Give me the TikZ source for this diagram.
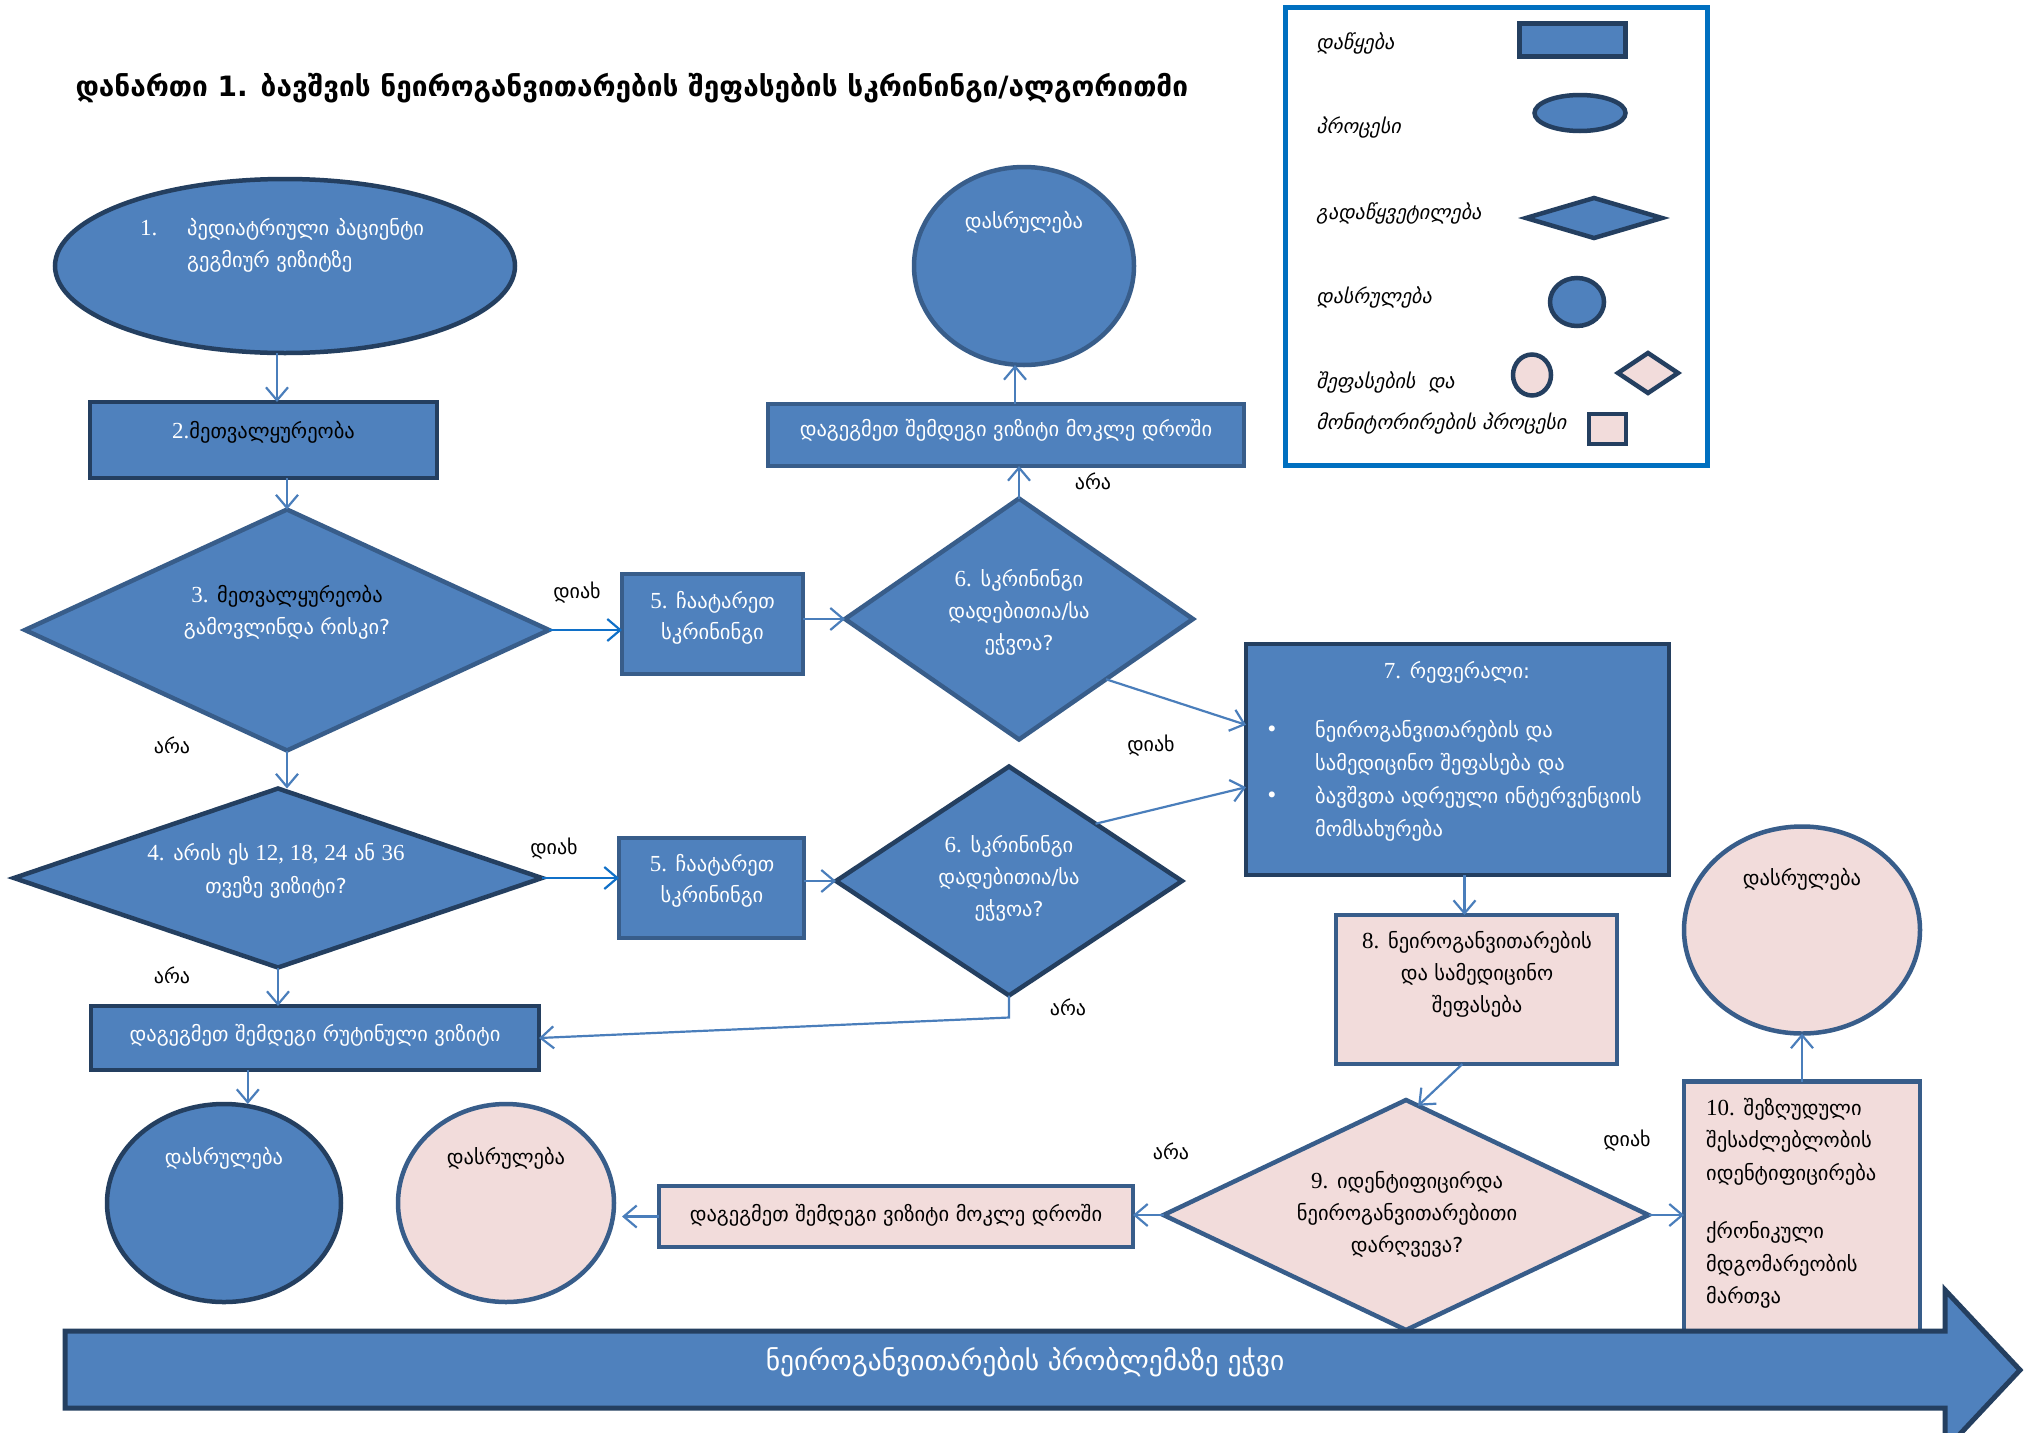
\documentclass[tikz,border=0pt]{standalone}
\usepackage{fontspec}
\setmainfont{DejaVu Sans}
\newfontfamily\geoit[FakeSlant=0.22]{DejaVu Sans}
\newfontfamily\lat{Liberation Serif}
\usetikzlibrary{shapes.geometric,arrows.meta,calc}
\definecolor{bF}{HTML}{4F81BD}
\definecolor{bD}{HTML}{243F60}
\definecolor{bM}{HTML}{385D8A}
\definecolor{pF}{HTML}{F2DCDB}
\definecolor{cC}{HTML}{4A7EBB}
\definecolor{cB}{HTML}{1070C8}
\definecolor{lgB}{HTML}{0070C0}
\newcommand\fsN{\fontsize{20.5}{32}\selectfont}
\newcommand\fsL{\fontsize{20}{22}\selectfont}
\newcommand\fsT{\bfseries\fontsize{28}{32}\selectfont}
\newcommand\fsA{\fontsize{27.5}{30}\selectfont}
\newcommand\fsG{\geoit\fontsize{20}{22}\selectfont}
\newcommand\dg[1]{{\lat\fontsize{23}{23}\selectfont #1}}
\tikzset{
  base/.style={line width=4.5pt, inner sep=0pt, outer sep=0pt},
  bd/.style={base, fill=bF, draw=bD},
  bm/.style={base, fill=bF, draw=bM},
  pk/.style={base, fill=pF, draw=bM},
  pkd/.style={base, fill=pF, draw=bD},
  txt/.style={font=\fsN, align=center, inner sep=0pt},
  wt/.style={txt, text=white},
  bt/.style={txt, text=black},
  lbl/.style={font=\fsL, inner sep=0pt},
  lgt/.style={font=\fsG, inner sep=0pt, anchor=west},
  conn/.style={draw=cC, line width=2.2pt, -{Straight Barb[length=13pt,width=22pt]}},
  connb/.style={conn, draw=cB},
}
\begin{document}
\begin{tikzpicture}[x=1pt,y=-1pt]
\useasboundingbox (0,0) rectangle (2033,1432);
\fill[white] (0,0) rectangle (2033,1432);
\clip (0,0) rectangle (2033,1432);

% title
\node[font=\fsT, inner sep=0pt] (title) at (632,88) {დანართი 1. ბავშვის ნეიროგანვითარების შეფასების სკრინინგი/ალგორითმი};

% legend
\node[draw=lgB, line width=4.5pt, minimum width=422pt, minimum height=458pt, inner sep=0pt] (leg) at (1496.5,236.5) {};
\node[bd, rectangle, minimum width=106pt, minimum height=33pt] (lg1) at (1572.5,40) {};
\node[bd, ellipse, minimum width=91pt, minimum height=36pt] (lg2) at (1580,113) {};
\node[bd, diamond, minimum width=136pt, minimum height=40pt] (lg3) at (1594,218) {};
\node[bd, ellipse, minimum width=54pt, minimum height=48pt] (lg4) at (1577,302) {};
\node[pkd, ellipse, minimum width=38pt, minimum height=41pt] (lg5) at (1532,375) {};
\node[pkd, diamond, minimum width=60pt, minimum height=40pt] (lg6) at (1648,373) {};
\node[pkd, rectangle, minimum width=37pt, minimum height=30pt] (lg7) at (1607.5,429) {};
\node[lgt] (lt1) at (1316,43) {დაწყება};
\node[lgt] (lt2) at (1316,128) {პროცესი};
\node[lgt] (lt3) at (1316,213) {გადაწყვეტილება};
\node[lgt] (lt4) at (1316,297) {დასრულება};
\node[lgt] (lt5) at (1316,382) {შეფასების~~და};
\node[lgt] (lt6) at (1316,423) {მონიტორირების პროცესი};

% main shapes
\node[bd, ellipse, minimum width=460pt, minimum height=174pt] (n1) at (285,266) {};
\node[wt, anchor=west] (t1a) at (140,228) {\dg{1.}};
\node[wt, anchor=west, align=left] (t1) at (187,245.5) {პედიატრიული პაციენტი\\გეგმიურ ვიზიტზე};

\node[bd, rectangle, minimum width=347pt, minimum height=76pt] (n2) at (263.5,440) {};
\node[bt] (t2) at (263.5,432) {\textcolor{white}{\dg{2.}}მეთვალყურეობა};

\node[bm, diamond, minimum width=524pt, minimum height=241pt] (n3) at (287,630) {};
\node[wt] (t3) at (287,612) {\dg{3.} \textcolor{black}{მეთვალყურეობა}\\გამოვლინდა რისკი?};

\node[bm, rectangle, minimum width=181pt, minimum height=100pt] (n5a) at (712.5,624) {};
\node[wt, font=\fontsize{20.5}{31}\selectfont] (t5a) at (712.5,618) {\dg{5.} ჩაატარეთ\\სკრინინგი};

\node[bm, diamond, minimum width=348pt, minimum height=241pt] (n6a) at (1019,619) {};
\node[wt] (t6a) at (1019,612) {\dg{6.} სკრინინგი\\დადებითია/სა\\ეჭვოა?};

\node[bm, rectangle, minimum width=476pt, minimum height=62pt] (np1) at (1006,435) {};
\node[wt] (tp1) at (1006,430) {დაგეგმეთ შემდეგი ვიზიტი მოკლე დროში};

\node[bm, ellipse, minimum width=220pt, minimum height=198pt] (ne1) at (1024,266) {};
\node[wt] (te1) at (1024,222) {დასრულება};

\node[bd, rectangle, minimum width=423pt, minimum height=231pt] (n7) at (1457.5,759.5) {};
\node[wt] (t7) at (1457,672) {\dg{7.} რეფერალი:};
\node[wt] (b7a) at (1272,731) {•};
\node[wt] (b7b) at (1272,797) {•};
\node[wt, anchor=west, align=left, font=\fontsize{20.5}{33}\selectfont] (t7b) at (1315,780.5) {ნეიროგანვითარების და\\სამედიცინო შეფასება და\\ბავშვთა ადრეული ინტერვენციის\\მომსახურება};

\node[bd, diamond, minimum width=528pt, minimum height=179pt] (n4) at (278,878) {};
\node[wt, font=\fontsize{20.5}{33}\selectfont] (t4) at (276,871) {\dg{4.} არის ეს \dg{12, 18, 24} ან \dg{36}\\თვეზე ვიზიტი?};

\node[bm, rectangle, minimum width=185pt, minimum height=100pt] (n5b) at (711.5,888) {};
\node[wt, font=\fontsize{20.5}{31}\selectfont] (t5b) at (712,881) {\dg{5.} ჩაატარეთ\\სკრინინგი};

\node[bd, diamond, minimum width=346pt, minimum height=229pt] (n6b) at (1009,881) {};
\node[wt] (t6b) at (1009,878) {\dg{6.} სკრინინგი\\დადებითია/სა\\ეჭვოა?};

\node[bd, rectangle, minimum width=448pt, minimum height=64pt] (nr) at (315,1038) {};
\node[wt] (tr) at (315,1035) {დაგეგმეთ შემდეგი რუტინული ვიზიტი};

\node[bd, ellipse, minimum width=234pt, minimum height=198pt] (ne2) at (224,1203) {};
\node[wt] (te2) at (224,1158) {დასრულება};

\node[pk, ellipse, minimum width=216pt, minimum height=198pt] (ne3) at (506,1203) {};
\node[bt] (te3) at (506,1158) {დასრულება};

\node[pk, rectangle, minimum width=474pt, minimum height=61pt] (np2) at (896,1216.5) {};
\node[bt] (tp2) at (896,1215) {დაგეგმეთ შემდეგი ვიზიტი მოკლე დროში};

\node[pk, diamond, minimum width=485pt, minimum height=230pt] (n9) at (1406,1215) {};
\node[bt] (t9) at (1407,1214) {\dg{9.} იდენტიფიცირდა\\ნეიროგანვითარებითი\\დარღვევა?};

\node[pk, rectangle, minimum width=281pt, minimum height=149pt] (n8) at (1476.5,989.5) {};
\node[bt] (t8) at (1477,974) {\dg{8.} ნეიროგანვითარების\\და სამედიცინო\\შეფასება};

\node[pk, ellipse, minimum width=236pt, minimum height=207pt] (ne4) at (1802,930) {};
\node[bt] (te4) at (1802,879) {დასრულება};

\node[pk, rectangle, minimum width=236pt, minimum height=275pt] (n10) at (1802,1219) {};
\node[bt, anchor=west, align=left, font=\fontsize{20.5}{32.5}\selectfont] (t10) at (1706,1203.5) {\dg{10.} შეზღუდული\\შესაძლებლობის\\იდენტიფიცირება\\[26pt]ქრონიკული\\მდგომარეობის\\მართვა};

% connectors
\draw[conn] ([xshift=-8pt]n1.south) -- ([xshift=-8pt]n1.south |- n2.north);
\draw[conn] (n3.north |- n2.south) -- (n3.north);
\draw[connb] (n3.east) -- (n3.east -| n5a.west);
\draw[conn] (n5a.east |- n6a.west) -- (n6a.west);
\draw[conn] (n6a.north) -- (n6a.north |- np1.south);
\draw[conn] ([xshift=-9pt]ne1.south |- np1.north) -- ([xshift=-9pt]ne1.south);
\draw[conn] (n6a.south east) -- ($(n7.north west)!0.35!(n7.south west)$);
\draw[conn] (n6b.north east) -- ($(n7.north west)!0.62!(n7.south west)$);
\draw[conn] (n3.south) -- (n3.south |- n4.north);
\draw[connb] (n4.east) -- (n4.east -| n5b.west);
\draw[conn] (n5b.east |- n6b.west) -- (n6b.west);
\draw[conn] (n6b.south) -- ++(0,22) -- (nr.east);
\draw[conn] (n4.south) -- (n4.south |- nr.north);
\coordinate (rb) at ($(nr.south west)!0.35!(nr.south east)$);
\draw[conn] (rb) -- (rb |- ne2.north);
\draw[conn] ([xshift=7pt]n7.south) -- ([xshift=7pt]n7.south |- n8.north);
\draw[conn] ($(n8.south west)!0.45!(n8.south east)$) -- ($(n9.north)!0.05!(n9.east)$);
\draw[conn] (n9.west) -- (n9.west -| np2.east);
\draw[conn] (np2.west) -- ($(ne3.east |- np2.west)+(8,0)$);
\draw[conn] (n9.east) -- (n9.east -| n10.west);
\draw[conn] (n10.north) -- (ne4.south);

% labels
\node[lbl] (l1) at (577,593) {დიახ};
\node[lbl] (l2) at (172,745) {არა};
\node[lbl] (l3) at (1093,481) {არა};
\node[lbl] (l4) at (1151,746) {დიახ};
\node[lbl] (l5) at (554,849) {დიახ};
\node[lbl] (l6) at (172,975) {არა};
\node[lbl] (l7) at (1068,1007) {არა};
\node[lbl] (l8) at (1171,1151) {არა};
\node[lbl] (l9) at (1627,1141) {დიახ};

% big arrow
\draw[bd, line width=5pt] (65,1331) -- (1945,1331) -- (1945,1290) -- (2020,1370) -- (1945,1450) -- (1945,1408) -- (65,1408) -- cycle;
\node[wt, font=\fsA] (tA) at (1025,1362) {ნეიროგანვითარების პრობლემაზე ეჭვი};
\end{tikzpicture}
\end{document}
